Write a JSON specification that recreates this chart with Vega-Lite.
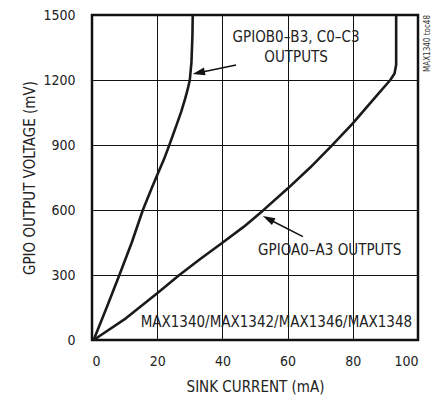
{
  "$schema": "https://vega.github.io/schema/vega-lite/v6.json",
  "width": 326,
  "height": 325,
  "autosize": {"type": "none"},
  "padding": {"left": 92, "top": 15, "right": 15, "bottom": 57},
  "background": "white",
  "config": {
    "view": {"stroke": "#111", "strokeWidth": 2.5},
    "font": "DejaVu Sans Condensed, Liberation Sans, sans-serif",
    "axis": {
      "labelFont": "DejaVu Sans Condensed, Liberation Sans, sans-serif",
      "titleFont": "DejaVu Sans Condensed, Liberation Sans, sans-serif",
      "labelFontSize": 14,
      "titleFontSize": 15,
      "titleFontWeight": "normal",
      "labelColor": "#222",
      "titleColor": "#222",
      "gridColor": "#111",
      "gridOpacity": 1,
      "gridWidth": 1,
      "domain": false,
      "ticks": false
    }
  },
  "datasets": {
    "curves": [
      {"s": "B", "i": 0, "x": 0.5, "y": 0},
      {"s": "B", "i": 1, "x": 4.5, "y": 150},
      {"s": "B", "i": 2, "x": 8.4, "y": 300},
      {"s": "B", "i": 3, "x": 12.2, "y": 450},
      {"s": "B", "i": 4, "x": 15.6, "y": 600},
      {"s": "B", "i": 5, "x": 18.3, "y": 700},
      {"s": "B", "i": 6, "x": 20.2, "y": 769},
      {"s": "B", "i": 7, "x": 22.1, "y": 835},
      {"s": "B", "i": 8, "x": 23.6, "y": 895},
      {"s": "B", "i": 9, "x": 24.8, "y": 945},
      {"s": "B", "i": 10, "x": 26.0, "y": 995},
      {"s": "B", "i": 11, "x": 27.4, "y": 1055},
      {"s": "B", "i": 12, "x": 28.6, "y": 1115},
      {"s": "B", "i": 13, "x": 29.4, "y": 1160},
      {"s": "B", "i": 14, "x": 30.0, "y": 1200},
      {"s": "B", "i": 15, "x": 30.5, "y": 1280},
      {"s": "B", "i": 16, "x": 30.8, "y": 1400},
      {"s": "B", "i": 17, "x": 30.9, "y": 1500},
      {"s": "A", "i": 0, "x": 0.5, "y": 0},
      {"s": "A", "i": 1, "x": 10.4, "y": 100},
      {"s": "A", "i": 2, "x": 20.2, "y": 218},
      {"s": "A", "i": 3, "x": 26.8, "y": 300},
      {"s": "A", "i": 4, "x": 32.9, "y": 370},
      {"s": "A", "i": 5, "x": 40.1, "y": 450},
      {"s": "A", "i": 6, "x": 46.5, "y": 522},
      {"s": "A", "i": 7, "x": 52.4, "y": 597},
      {"s": "A", "i": 8, "x": 60.1, "y": 700},
      {"s": "A", "i": 9, "x": 67.0, "y": 797},
      {"s": "A", "i": 10, "x": 73.4, "y": 895},
      {"s": "A", "i": 11, "x": 80.0, "y": 1000},
      {"s": "A", "i": 12, "x": 86.2, "y": 1108},
      {"s": "A", "i": 13, "x": 91.5, "y": 1200},
      {"s": "A", "i": 14, "x": 92.8, "y": 1230},
      {"s": "A", "i": 15, "x": 93.3, "y": 1270},
      {"s": "A", "i": 16, "x": 93.3, "y": 1500}
    ],
    "arrows": [
      {"a": "B", "x": 44.2, "y": 1269, "x2": 32.0, "y2": 1231, "hx": 30.9, "hy": 1228, "ang": 258},
      {"a": "A", "x": 64.7, "y": 477, "x2": 53.5, "y2": 563, "hx": 52.4, "hy": 572, "ang": 297}
    ],
    "labels": [
      {"t": "GPIOB0–B3, C0–C3", "x": 62.6, "y": 1400},
      {"t": "OUTPUTS", "x": 62.6, "y": 1308},
      {"t": "GPIOA0–A3 OUTPUTS", "x": 72.9, "y": 415}
    ]
  },
  "layer": [
    {
      "data": {"name": "curves"},
      "mark": {"type": "line", "color": "#1a1a1a", "strokeWidth": 2.6, "strokeJoin": "round"},
      "encoding": {
        "x": {
          "field": "x", "type": "quantitative",
          "scale": {"domain": [0, 100], "nice": false, "zero": false},
          "axis": {"values": [0, 20, 40, 60, 80, 100], "format": "d", "grid": true, "title": "SINK CURRENT (mA)", "labelPadding": 14, "titlePadding": 11}
        },
        "y": {
          "field": "y", "type": "quantitative",
          "scale": {"domain": [0, 1500], "nice": false},
          "axis": {"values": [0, 300, 600, 900, 1200, 1500], "format": "d", "grid": true, "title": "GPIO OUTPUT VOLTAGE (mV)", "labelPadding": 17, "titlePadding": 5}
        },
        "detail": {"field": "s"},
        "order": {"field": "i"}
      }
    },
    {
      "data": {"name": "arrows"},
      "mark": {"type": "rule", "color": "#111", "strokeWidth": 1.5},
      "encoding": {
        "x": {"field": "x", "type": "quantitative"},
        "y": {"field": "y", "type": "quantitative"},
        "x2": {"field": "x2"},
        "y2": {"field": "y2"}
      }
    },
    {
      "data": {"name": "arrows"},
      "mark": {"type": "point", "shape": "M0,0 L-0.32,1 L0.32,1 Z", "filled": true, "color": "#111", "opacity": 1, "size": 600},
      "encoding": {
        "x": {"field": "hx", "type": "quantitative"},
        "y": {"field": "hy", "type": "quantitative"},
        "angle": {"field": "ang", "type": "quantitative", "scale": null}
      }
    },
    {
      "data": {"name": "labels"},
      "mark": {"type": "text", "fontSize": 15, "color": "#222", "align": "center", "baseline": "middle"},
      "encoding": {
        "x": {"field": "x", "type": "quantitative"},
        "y": {"field": "y", "type": "quantitative"},
        "text": {"field": "t"}
      }
    },
    {
      "data": {"values": [{"t": "MAX1340/MAX1342/MAX1346/MAX1348", "x": 98.2, "y": 85}]},
      "mark": {"type": "text", "fontSize": 15, "color": "#222", "align": "right", "baseline": "middle"},
      "encoding": {
        "x": {"field": "x", "type": "quantitative"},
        "y": {"field": "y", "type": "quantitative"},
        "text": {"field": "t"}
      }
    },
    {
      "data": {"values": [{"t": "MAX1340 toc48", "x": 103.2, "y": 1500}]},
      "mark": {"type": "text", "fontSize": 8, "color": "#333", "align": "right", "baseline": "middle", "angle": 270},
      "encoding": {
        "x": {"field": "x", "type": "quantitative"},
        "y": {"field": "y", "type": "quantitative"},
        "text": {"field": "t"}
      }
    }
  ]
}
